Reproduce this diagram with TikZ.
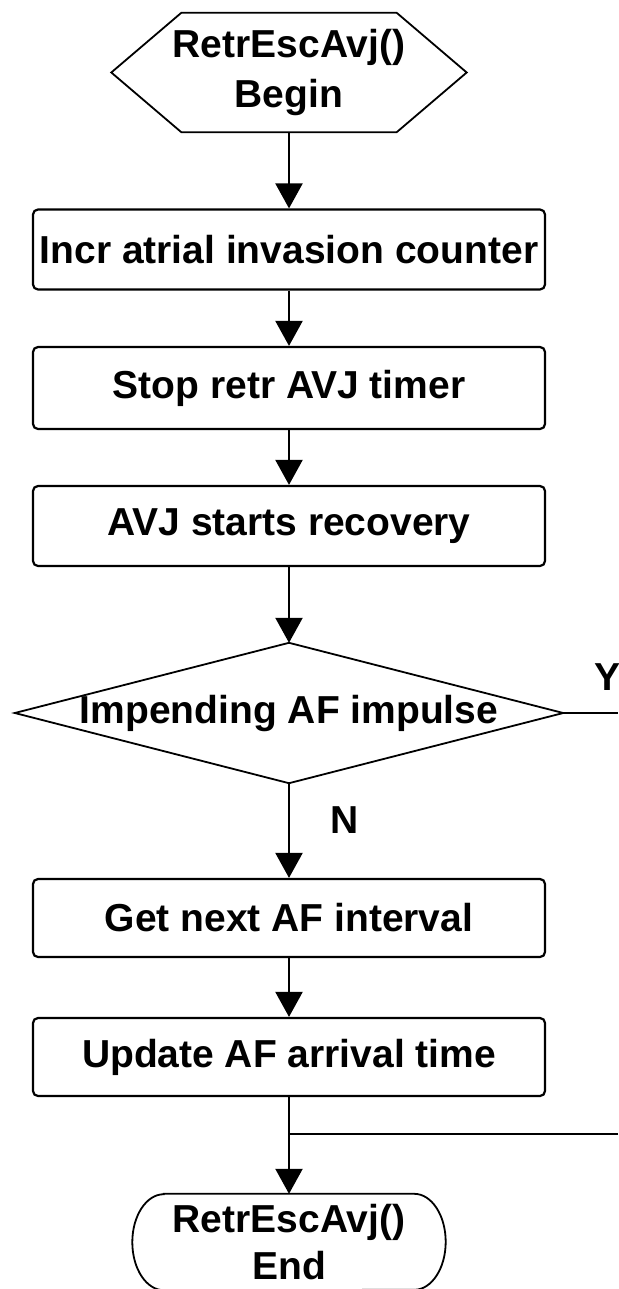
\documentclass[tikz,border=0pt]{standalone}
\usepackage{fontspec}
\setmainfont{Liberation Sans}
\usetikzlibrary{arrows.meta}
\begin{document}
\begin{tikzpicture}[x=1pt,y=-1pt,
  every node/.style={font=\fontsize{39}{50}\selectfont\bfseries},
  stepbox/.style={draw, line width=2.2pt, rounded corners=5pt, minimum width=512pt, minimum height=80pt, inner sep=0pt},
  shapeline/.style={line width=1.8pt},
  conn/.style={line width=2.2pt},
  arr/.style={conn, -{Triangle[length=25pt,width=27pt]}},
  plain/.style={inner sep=0pt, align=center}
]
\useasboundingbox (0,0) rectangle (618,1289);
\fill[white] (0,0) rectangle (618,1289);

% begin hexagon
\node[plain, minimum width=355pt, minimum height=119pt] (begin) at (289,72.5) {RetrEscAvj()\\Begin};
\draw[shapeline] ([xshift=70pt]begin.north west) -- ([xshift=-70pt]begin.north east) -- (begin.east)
  -- ([xshift=-70pt]begin.south east) -- ([xshift=70pt]begin.south west) -- (begin.west) -- cycle;

% process boxes
\node[stepbox] (incr) at (289,249.5) {Incr atrial invasion counter};
\node[stepbox, minimum height=82pt] (stop) at (289,388) {Stop retr AVJ timer};
\node[stepbox] (avj) at (289,526) {AVJ starts recovery};

% decision
\node[plain, minimum width=548pt, minimum height=140pt] (dec) at (289,713) {Impending AF impulse};
\draw[shapeline] (dec.north) -- (dec.east) -- (dec.south) -- (dec.west) -- cycle;

\node[stepbox, minimum height=78pt] (next) at (289,918) {Get next AF interval};
\node[stepbox, minimum height=78pt] (upd) at (289,1057) {Update AF arrival time};

% end terminator
\node[plain, minimum width=313pt, minimum height=96pt, font=\fontsize{39}{47}\selectfont\bfseries] (end) at (289,1242) {RetrEscAvj()\\End};
\draw[shapeline] ([xshift=31.5pt]end.north west) -- ([xshift=-31.5pt]end.north east)
  arc[start angle=90, end angle=-90, x radius=31.5pt, y radius=48pt]
  -- ([xshift=31.5pt]end.south west)
  arc[start angle=270, end angle=90, x radius=31.5pt, y radius=48pt] -- cycle;

% labels
\node[inner sep=0pt] (nlab) at (345,820) {N};
\node[inner sep=0pt] (ylab) at (607,677) {Y};

% connectors
\coordinate (yout) at (618,713);
\coordinate (yin) at (618,1134);
\draw[arr] (begin.south) -- (incr.north);
\draw[arr] (incr.south) -- (stop.north);
\draw[arr] (stop.south) -- (avj.north);
\draw[arr] (avj.south) -- (dec.north);
\draw[arr] (dec.south) -- (next.north);
\draw[conn] (dec.east) -- (yout);
\draw[arr] (next.south) -- (upd.north);
\draw[arr] (upd.south) -- (end.north);
\draw[conn] (yin) -- (yin -| end.north);
\end{tikzpicture}
\end{document}
